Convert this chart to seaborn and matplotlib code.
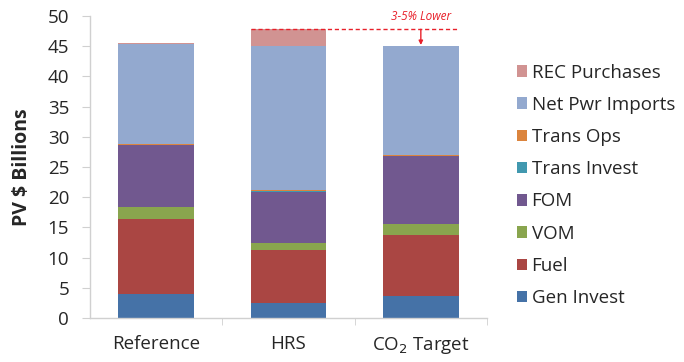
import matplotlib
matplotlib.use("Agg")
import matplotlib.pyplot as plt
import seaborn as sns
import pandas as pd
import numpy as np
from matplotlib.patches import Patch

scenarios = ["Reference", "HRS", "CO$_2$ Target"]
components = ["Gen Invest", "Fuel", "VOM", "FOM", "Trans Invest", "Trans Ops", "Net Pwr Imports", "REC Purchases"]
gen_invest = [4.0, 2.55, 3.65]
fuel = [12.4, 8.7, 10.1]
vom = [1.9, 1.1, 1.8]
fom = [10.3, 8.55, 11.25]
trans_invest = [0.05, 0.05, 0.05]
trans_ops = [0.1, 0.2, 0.1]
net_imports = [16.55, 23.95, 18.15]
rec = [0.3, 2.7, 0.0]
colors = ["#4572A7", "#AA4643", "#89A54E", "#71588F", "#4198AF", "#DB843D", "#93A9CF", "#D19392"]
y_ticks = [0, 5, 10, 15, 20, 25, 30, 35, 40, 45, 50]

series = [gen_invest, fuel, vom, fom, trans_invest, trans_ops, net_imports, rec]
df = pd.DataFrame({"Scenario": scenarios})
cum = np.zeros(3)
for name, vals in zip(components, series):
    cum = cum + np.array(vals)
    df[name] = cum.copy()

sns.set_style("white")
plt.rcParams["font.family"] = ["Open Sans", "DejaVu Sans"]

fig = plt.figure(figsize=(6.84, 3.62), dpi=100)
ax = fig.add_axes([90/684, 1-318/362, (487-90)/684, (318-16)/362])

for name, col in reversed(list(zip(components, colors))):
    sns.barplot(data=df, x="Scenario", y=name, color=col, width=0.57,
                linewidth=0, ax=ax, saturation=1)

ax.set_xlim(-0.5, 2.5)
ax.set_ylim(0, 50)
ax.set_yticks(y_ticks)
ax.set_ylabel("PV $ Billions", fontsize=14, fontweight="bold", labelpad=11)
ax.set_xlabel("")
ax.tick_params(axis="y", labelsize=13.5, length=6, color="#d0d0d0", pad=9, direction="out", left=True)
ax.tick_params(axis="x", labelsize=13.5, length=0, pad=12)
ax.set_xticks([0, 1, 2])
ax.set_xticklabels(scenarios)
ax.set_xticks([0.5, 1.5, 2.5], minor=True)
ax.tick_params(axis="x", which="minor", length=5, color="#d0d0d0", bottom=True)
for s in ["top", "right"]:
    ax.spines[s].set_visible(False)
for s in ["left", "bottom"]:
    ax.spines[s].set_color("#d0d0d0")
    ax.spines[s].set_linewidth(1)

# annotation
hrs_total = sum(v[1] for v in series)
co2_total = sum(v[2] for v in series)
ax.plot([1 - 0.285, 2 + 0.285], [hrs_total, hrs_total], color="#e8202a", ls=(0, (3, 2)), lw=1, clip_on=False)
ax.annotate("", xy=(2, co2_total + 0.1), xytext=(2, hrs_total),
            arrowprops=dict(arrowstyle="-|>", color="#e8202a", lw=1, mutation_scale=6, shrinkA=0, shrinkB=0))
ax.text(2.0, hrs_total + 1.0, "3-5% Lower", color="#e8202a", fontsize=8.5, style="italic",
        ha="center", va="bottom")

handles = [Patch(facecolor=c, edgecolor="none", label=n) for n, c in zip(components, colors)]
handles = handles[::-1]
fig.legend(handles=handles, loc="upper left", bbox_to_anchor=(509/684, 1-56/362),
           frameon=False, fontsize=13.5, handlelength=0.55, handleheight=0.55,
           handletextpad=0.25, labelspacing=0.76, borderaxespad=0)

fig.savefig("out.png", dpi=100)
